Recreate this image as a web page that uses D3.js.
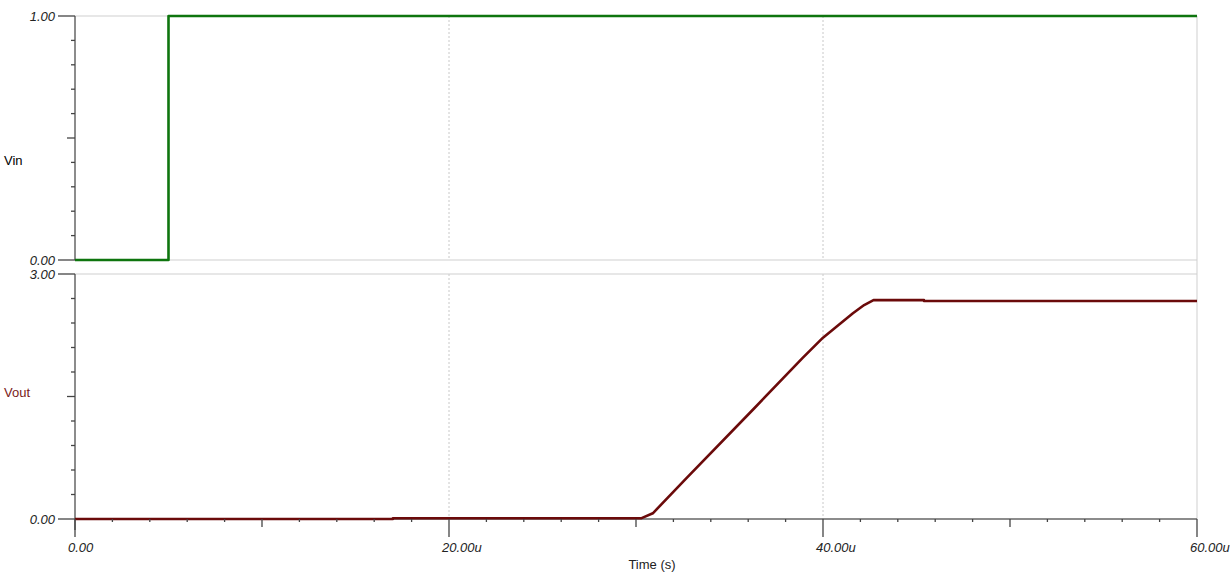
<!DOCTYPE html>
<meta charset="utf-8">
<script src="https://d3js.org/d3.v7.min.js"></script>
<style>
  body { margin: 0; background: #fff; }
  svg text { font-family: Arial, "Liberation Sans", sans-serif; }
</style>
<div id="chart"></div>
<script>
// data (time in microseconds, volts)
var vinTime = [0, 5.0, 5.0, 60];
var vinValue = [0, 0, 1, 1];

var voutTime = [0, 17.0, 17.0, 30.3, 30.9, 32.7, 36.3, 38.9, 40.0, 40.75, 41.6, 42.2, 42.7, 45.4, 45.4, 60];
var voutValue = [0, 0, 0.01, 0.01, 0.07, 0.50, 1.35, 1.97, 2.22, 2.36, 2.52, 2.62, 2.68, 2.68, 2.67, 2.67];

var xTickLabels = ['0.00', '20.00u', '40.00u', '60.00u'];
var xTickValues = [0, 20, 40, 60];

var width = 1230, height = 581;
var left = 75, right = 1197;

var svg = d3.select('#chart').append('svg')
    .attr('width', width)
    .attr('height', height);

var x = d3.scaleLinear().domain([0, 60]).range([left, right]);

var panels = [
    { name: 'Vin', color: '#0e750e', labelColor: '#000', max: 1, top: 16, bottom: 260,
      ticks: ['0.00', '1.00'], t: vinTime, v: vinValue, labelY: 165 },
    { name: 'Vout', color: '#6b0a0a', labelColor: '#7a1a1a', max: 3, top: 274, bottom: 519,
      ticks: ['0.00', '3.00'], t: voutTime, v: voutValue, labelY: 397 }
];

// grid lines - vertical dotted
[20, 40].forEach(function(d) {
    panels.forEach(function(p) {
        svg.append('line')
            .attr('x1', x(d)).attr('x2', x(d))
            .attr('y1', p.top).attr('y2', p.bottom)
            .attr('stroke', '#c8c8c8')
            .attr('stroke-dasharray', '2,2');
    });
});

// right border
svg.append('line')
    .attr('x1', right).attr('x2', right)
    .attr('y1', 16).attr('y2', 519)
    .attr('stroke', '#cfcfcf');

panels.forEach(function(p) {
    var y = d3.scaleLinear().domain([0, p.max]).range([p.bottom, p.top]);

    // horizontal light lines at top/bottom of panel
    svg.append('line')
        .attr('x1', left).attr('x2', right)
        .attr('y1', y(p.max)).attr('y2', y(p.max))
        .attr('stroke', '#cfcfcf');
    if (p.name == 'Vin') {
        svg.append('line')
            .attr('x1', left).attr('x2', right)
            .attr('y1', y(0)).attr('y2', y(0))
            .attr('stroke', '#cfcfcf');
    }

    // y axis line
    svg.append('line')
        .attr('x1', left).attr('x2', left)
        .attr('y1', p.top).attr('y2', p.name == 'Vout' ? 530 : p.bottom)
        .attr('stroke', '#666').attr('stroke-width', 1.5);

    // y ticks: 10 divisions
    d3.range(0, 11).forEach(function(i) {
        var val = p.max * i / 10;
        var len = (i == 0 || i == 10) ? 17 : (i == 5 ? 8 : 4);
        svg.append('line')
            .attr('x1', left - len).attr('x2', left)
            .attr('y1', y(val)).attr('y2', y(val))
            .attr('stroke', '#444').attr('stroke-width', 1.3);
    });

    svg.append('text').attr('x', 55).attr('y', y(p.max) + 5)
        .attr('text-anchor', 'end').attr('font-size', 13).attr('font-style', 'italic')
        .attr('fill', '#222').text(p.ticks[1]);
    svg.append('text').attr('x', 55).attr('y', y(0) + 5)
        .attr('text-anchor', 'end').attr('font-size', 13).attr('font-style', 'italic')
        .attr('fill', '#222').text(p.ticks[0]);

    svg.append('text').attr('x', 4).attr('y', p.labelY)
        .attr('font-size', 13).attr('fill', p.labelColor).text(p.name);

    var pts = p.t.map(function(d, i) { return [d, p.v[i]]; });
    var line = d3.line().x(function(d) { return x(d[0]); }).y(function(d) { return y(d[1]); });
    svg.append('path')
        .datum(pts)
        .attr('d', line)
        .attr('fill', 'none')
        .attr('stroke', p.color)
        .attr('stroke-width', 2.6)
        .attr('stroke-linejoin', 'round');
});

// x axis
var xAxisY = 519;
svg.insert('line', 'path')
    .attr('x1', left).attr('x2', right)
    .attr('y1', xAxisY).attr('y2', xAxisY)
    .attr('stroke', '#666').attr('stroke-width', 1.5);

d3.range(0, 31).forEach(function(i) {
    var t = i * 2;
    var len = (t % 20 == 0) ? 18 : (t % 10 == 0 ? 8 : 3);
    svg.append('line')
        .attr('x1', x(t)).attr('x2', x(t))
        .attr('y1', xAxisY).attr('y2', xAxisY + len)
        .attr('stroke', '#444').attr('stroke-width', 1.3);
});

xTickValues.forEach(function(d, i) {
    svg.append('text')
        .attr('x', x(d) - 7).attr('y', 552)
        .attr('font-size', 13).attr('font-style', 'italic')
        .attr('fill', '#222').text(xTickLabels[i]);
});

svg.append('text')
    .attr('x', 652).attr('y', 569)
    .attr('text-anchor', 'middle')
    .attr('font-size', 13).attr('fill', '#222').text('Time (s)');
</script>
